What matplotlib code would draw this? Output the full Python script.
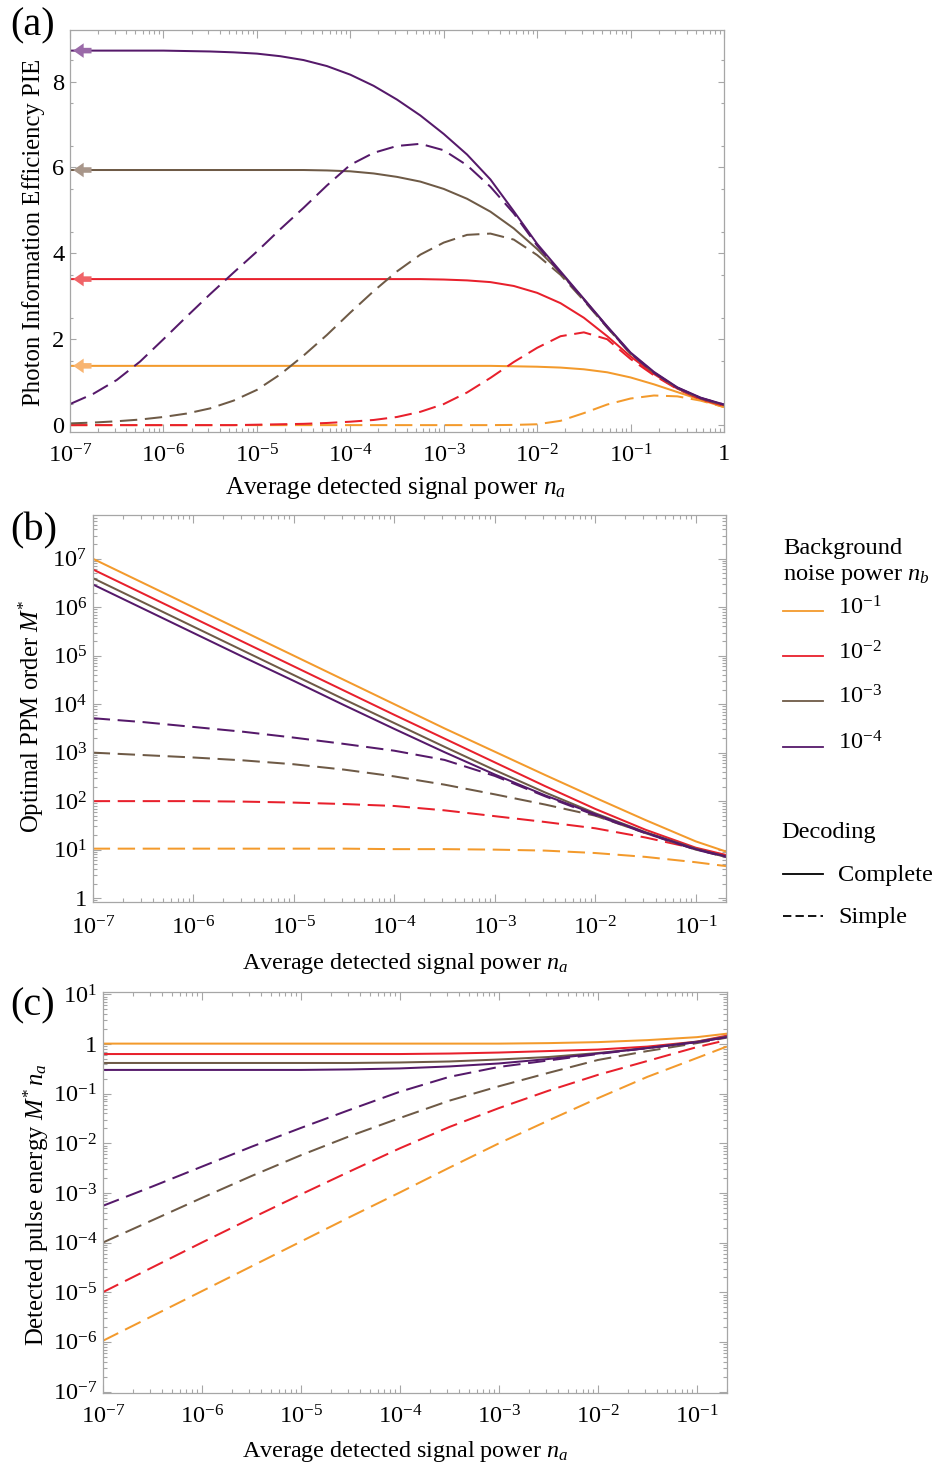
import numpy as np
import matplotlib
matplotlib.use('Agg')
import matplotlib.pyplot as plt
from matplotlib.lines import Line2D
from matplotlib.patches import FancyArrowPatch
from matplotlib.ticker import FixedLocator, FixedFormatter, NullFormatter

plt.rcParams['font.family'] = ['Liberation Serif', 'DejaVu Serif']
plt.rcParams['mathtext.fontset'] = 'custom'
plt.rcParams['mathtext.rm'] = 'Liberation Serif'
plt.rcParams['mathtext.it'] = 'Liberation Serif:italic'
plt.rcParams['mathtext.bf'] = 'Liberation Serif:bold'
plt.rcParams['lines.scale_dashes'] = False

# ---------------- DATA ----------------
noise_labels = [r'$10^{-1}$', r'$10^{-2}$', r'$10^{-3}$', r'$10^{-4}$']
colors = ['#f39a2c', '#e8202c', '#6e5a46', '#55196a']
arrow_colors = ['#f8b470', '#f06468', '#a8968a', '#9a6aa8']

# panel (a): log10(n_a) grid and PIE values
loga_x = [-7, -6.75, -6.5, -6.25, -6, -5.75, -5.5, -5.25, -5, -4.75, -4.5, -4.25, -4, -3.75,
          -3.5, -3.25, -3, -2.75, -2.5, -2.25, -2, -1.75, -1.5, -1.25, -1, -0.75, -0.5, -0.25, 0]
pie_complete = [
    # nb = 1e-1
    [1.38, 1.38, 1.38, 1.38, 1.38, 1.38, 1.38, 1.38, 1.38, 1.38, 1.38, 1.38, 1.38, 1.38,
     1.38, 1.38, 1.38, 1.38, 1.38, 1.37, 1.36, 1.34, 1.30, 1.23, 1.11, 0.95, 0.77, 0.59, 0.42],
    # nb = 1e-2
    [3.40, 3.40, 3.40, 3.40, 3.40, 3.40, 3.40, 3.40, 3.40, 3.40, 3.40, 3.40, 3.40, 3.40,
     3.40, 3.40, 3.39, 3.37, 3.33, 3.24, 3.08, 2.84, 2.50, 2.07, 1.60, 1.19, 0.85, 0.61, 0.46],
    # nb = 1e-3
    [5.94, 5.94, 5.94, 5.94, 5.94, 5.94, 5.94, 5.94, 5.94, 5.94, 5.94, 5.93, 5.91, 5.86,
     5.78, 5.67, 5.50, 5.27, 4.97, 4.58, 4.10, 3.55, 2.93, 2.29, 1.67, 1.22, 0.87, 0.63, 0.47],
    # nb = 1e-4
    [8.72, 8.72, 8.72, 8.72, 8.72, 8.71, 8.70, 8.68, 8.65, 8.59, 8.50, 8.36, 8.16, 7.90,
     7.58, 7.21, 6.78, 6.30, 5.72, 4.98, 4.22, 3.58, 2.94, 2.30, 1.69, 1.24, 0.88, 0.64, 0.48],
]
pie_simple = [
    [0.00, 0.00, 0.00, 0.00, 0.00, 0.00, 0.00, 0.00, 0.00, 0.00, 0.00, 0.00, 0.00, 0.00,
     0.00, 0.00, 0.00, 0.00, 0.00, 0.005, 0.02, 0.10, 0.28, 0.48, 0.62, 0.69, 0.67, 0.57, 0.42],
    [0.00, 0.00, 0.00, 0.00, 0.00, 0.00, 0.00, 0.00, 0.01, 0.02, 0.03, 0.05, 0.08, 0.12,
     0.19, 0.31, 0.49, 0.76, 1.10, 1.47, 1.80, 2.07, 2.16, 2.00, 1.54, 1.16, 0.84, 0.60, 0.45],
    [0.04, 0.06, 0.09, 0.13, 0.19, 0.27, 0.39, 0.57, 0.82, 1.18, 1.62, 2.10, 2.62, 3.12,
     3.58, 3.97, 4.25, 4.43, 4.46, 4.32, 3.96, 3.50, 2.90, 2.27, 1.66, 1.22, 0.86, 0.62, 0.47],
    [0.49, 0.73, 1.05, 1.48, 2.00, 2.53, 3.05, 3.55, 4.04, 4.56, 5.06, 5.58, 6.06, 6.34,
     6.50, 6.55, 6.40, 6.05, 5.55, 4.93, 4.18, 3.55, 2.92, 2.28, 1.67, 1.22, 0.87, 0.63, 0.48],
]
pie_limits = [1.38, 3.40, 5.94, 8.72]

# panel (b): log10(n_a) grid and log10(M*)
logb_x = [-7, -6.5, -6, -5.5, -5, -4.5, -4, -3.5, -3, -2.5, -2, -1.5, -1, -0.699]
logM_complete = [
    [7.00, 6.50, 6.00, 5.50, 5.00, 4.50, 4.00, 3.50, 3.02, 2.54, 2.07, 1.61, 1.17, 0.96],
    [6.78, 6.28, 5.78, 5.28, 4.78, 4.28, 3.78, 3.29, 2.80, 2.31, 1.84, 1.41, 1.04, 0.89],
    [6.60, 6.10, 5.60, 5.10, 4.60, 4.10, 3.61, 3.12, 2.64, 2.18, 1.75, 1.36, 1.02, 0.86],
    [6.47, 5.97, 5.47, 4.97, 4.48, 3.98, 3.49, 3.01, 2.55, 2.12, 1.73, 1.35, 1.01, 0.86],
]
logM_simple = [
    [1.02, 1.02, 1.02, 1.02, 1.02, 1.02, 1.01, 1.01, 1.00, 0.98, 0.93, 0.85, 0.74, 0.66],
    [2.00, 2.00, 2.00, 1.99, 1.97, 1.94, 1.90, 1.81, 1.69, 1.57, 1.44, 1.25, 1.02, 0.86],
    [3.00, 2.95, 2.90, 2.84, 2.76, 2.65, 2.51, 2.34, 2.14, 1.93, 1.70, 1.34, 1.00, 0.85],
    [3.71, 3.63, 3.53, 3.43, 3.31, 3.18, 3.04, 2.85, 2.52, 2.10, 1.71, 1.34, 1.00, 0.85],
]

# panel (c): log10(n_a) grid and log10(M* n_a)
logc_x = [-7, -6.5, -6, -5.5, -5, -4.5, -4, -3.5, -3, -2.5, -2, -1.5, -1, -0.699]
logE_complete = [
    [0.01, 0.01, 0.01, 0.01, 0.01, 0.01, 0.01, 0.01, 0.01, 0.02, 0.04, 0.08, 0.14, 0.21],
    [-0.20, -0.20, -0.20, -0.20, -0.20, -0.20, -0.20, -0.19, -0.17, -0.14, -0.11, -0.05, 0.05, 0.17],
    [-0.38, -0.38, -0.38, -0.38, -0.38, -0.38, -0.37, -0.35, -0.31, -0.26, -0.18, -0.08, 0.05, 0.15],
    [-0.52, -0.52, -0.52, -0.52, -0.52, -0.51, -0.49, -0.45, -0.39, -0.30, -0.19, -0.08, 0.04, 0.14],
]
logE_simple = [
    [-5.98, -5.48, -4.98, -4.48, -3.98, -3.48, -2.99, -2.49, -2.00, -1.54, -1.09, -0.66, -0.28, -0.05],
    [-5.00, -4.50, -4.00, -3.51, -3.03, -2.56, -2.10, -1.67, -1.29, -0.94, -0.62, -0.34, -0.06, 0.08],
    [-4.00, -3.55, -3.10, -2.66, -2.24, -1.85, -1.49, -1.14, -0.85, -0.58, -0.32, -0.14, 0.02, 0.13],
    [-3.26, -2.87, -2.47, -2.07, -1.69, -1.32, -0.96, -0.66, -0.46, -0.33, -0.20, -0.08, 0.04, 0.14],
]

xticks_a = [-7, -6, -5, -4, -3, -2, -1, 0]
xticklabels_a = [r'$10^{-7}$', r'$10^{-6}$', r'$10^{-5}$', r'$10^{-4}$', r'$10^{-3}$', r'$10^{-2}$', r'$10^{-1}$', '1']
xticks_bc = [-7, -6, -5, -4, -3, -2, -1]
xticklabels_bc = xticklabels_a[:-1]
yticks_a = [0, 2, 4, 6, 8]
yticks_b = [0, 1, 2, 3, 4, 5, 6, 7]
yticklabels_b = ['1', r'$10^{1}$', r'$10^{2}$', r'$10^{3}$', r'$10^{4}$', r'$10^{5}$', r'$10^{6}$', r'$10^{7}$']
yticks_c = [-7, -6, -5, -4, -3, -2, -1, 0, 1]
yticklabels_c = [r'$10^{-7}$', r'$10^{-6}$', r'$10^{-5}$', r'$10^{-4}$', r'$10^{-3}$', r'$10^{-2}$', r'$10^{-1}$', '1', r'$10^{1}$']

# ---------------- FIGURE ----------------
W, H = 943, 1465
fig = plt.figure(figsize=(W / 100, H / 100), dpi=100)

def ax_rect(l, r, t, b):
    return [l / W, 1 - b / H, (r - l) / W, (b - t) / H]

FRAME = '#a6a6a6'
FS = 17.6
LW = 1.45
DASH = (12.5, 5.5)

def style_axes(ax, xpad):
    for s in ax.spines.values():
        s.set_color(FRAME)
        s.set_linewidth(0.9)
    ax.tick_params(which='both', direction='in', top=True, right=True,
                   colors=FRAME, labelcolor='black', labelsize=FS, width=0.8)
    ax.tick_params(which='major', length=6, pad=4)
    ax.tick_params(which='minor', length=3)
    ax.tick_params(axis='x', which='major', pad=xpad)

def minor_log(lo, hi):
    out = []
    for d in range(int(np.floor(lo)) - 1, int(np.ceil(hi)) + 1):
        for k in range(2, 10):
            out.append(k * 10.0 ** d)
    return out

def set_log_xticks(ax, ticks, labels, lo, hi):
    ax.xaxis.set_major_locator(FixedLocator([10.0 ** t for t in ticks]))
    ax.xaxis.set_major_formatter(FixedFormatter(labels))
    ax.xaxis.set_minor_locator(FixedLocator(minor_log(lo, hi)))
    ax.xaxis.set_minor_formatter(NullFormatter())

def set_log_yticks(ax, ticks, labels, lo, hi):
    ax.yaxis.set_major_locator(FixedLocator([10.0 ** t for t in ticks]))
    ax.yaxis.set_major_formatter(FixedFormatter(labels))
    ax.yaxis.set_minor_locator(FixedLocator(minor_log(lo, hi)))
    ax.yaxis.set_minor_formatter(NullFormatter())

# ---- panel (a)
axa = fig.add_axes(ax_rect(70, 724, 30, 432))
xa = np.power(10.0, loga_x)
for i in range(4):
    axa.plot(xa, pie_complete[i], color=colors[i], lw=LW, solid_capstyle='butt')
    axa.plot(xa, pie_simple[i], color=colors[i], lw=LW, dashes=DASH)
axa.set_xscale('log')
axa.set_xlim(1e-7, 1)
axa.set_ylim(-0.16, 9.2)
style_axes(axa, 8.5)
set_log_xticks(axa, xticks_a, xticklabels_a, -7, 0)
axa.yaxis.set_major_locator(FixedLocator(yticks_a))
axa.yaxis.set_minor_locator(FixedLocator(np.arange(0.5, 9.1, 1.0)))
axa.tick_params(axis='y', which='major', length=4)
axa.tick_params(axis='y', which='minor', length=2.5)
for i, lev in enumerate(pie_limits):
    arr = FancyArrowPatch(posA=(10 ** -6.74, lev), posB=(10 ** -6.995, lev),
                          arrowstyle='simple,head_length=0.75,head_width=1.05,tail_width=0.4',
                          mutation_scale=10, color=arrow_colors[i], lw=0, zorder=4)
    axa.add_patch(arr)

# ---- panel (b)
axb = fig.add_axes(ax_rect(92.7, 726, 515, 902))
xb = np.power(10.0, logb_x)
for i in range(4):
    axb.plot(xb, np.power(10.0, logM_complete[i]), color=colors[i], lw=LW)
    axb.plot(xb, np.power(10.0, logM_simple[i]), color=colors[i], lw=LW, dashes=DASH)
axb.set_xscale('log')
axb.set_yscale('log')
axb.set_xlim(1e-7, 0.2)
axb.set_ylim(10 ** -0.08, 10 ** 7.9)
style_axes(axb, 10.5)
set_log_xticks(axb, xticks_bc, xticklabels_bc, -7, 0)
set_log_yticks(axb, yticks_b, yticklabels_b, -1, 8)

# ---- panel (c)
axc = fig.add_axes(ax_rect(102.7, 726.7, 992, 1393))
xc = np.power(10.0, logc_x)
for i in range(4):
    axc.plot(xc, np.power(10.0, logE_complete[i]), color=colors[i], lw=LW)
    axc.plot(xc, np.power(10.0, logE_simple[i]), color=colors[i], lw=LW, dashes=DASH)
axc.set_xscale('log')
axc.set_yscale('log')
axc.set_xlim(1e-7, 0.2)
axc.set_ylim(10 ** -7.03, 10 ** 1.05)
style_axes(axc, 8.5)
set_log_xticks(axc, xticks_bc, xticklabels_bc, -7, 0)
set_log_yticks(axc, yticks_c, yticklabels_c, -8, 1)

# ---- texts
def ftext(x, y, s, **kw):
    fig.text(x / W, 1 - y / H, s, **kw)

ftext(10, 35, '(a)', fontsize=29, ha='left', va='baseline')
ftext(10, 540, '(b)', fontsize=29, ha='left', va='baseline')
ftext(10, 1015, '(c)', fontsize=29, ha='left', va='baseline')

xlab = r'Average detected signal power $n_a$'
ftext(396, 494, xlab, fontsize=18.2, ha='center', va='baseline')
ftext(405, 969, xlab, fontsize=17.4, ha='center', va='baseline')
ftext(405, 1457, xlab, fontsize=17.4, ha='center', va='baseline')

ftext(34, 232, 'Photon Information Efficiency PIE', fontsize=17.8, rotation=90, ha='center', va='center')
ftext(31, 716, r'Optimal PPM order $M^{*}$', fontsize=17.8, rotation=90, ha='center', va='center')
ftext(36, 1205, r'Detected pulse energy $M^{*}\,n_a$', fontsize=17.8, rotation=90, ha='center', va='center')

# ---- legend (figure-level)
def fline(x0, x1, y, **kw):
    fig.add_artist(Line2D([x0 / W, x1 / W], [1 - y / H, 1 - y / H], transform=fig.transFigure, **kw))

ftext(783, 554, 'Background', fontsize=FS, ha='left', va='baseline')
ftext(783, 580, r'noise power $n_b$', fontsize=FS, ha='left', va='baseline')
leg_y = [611, 656, 701, 747]
for i in range(4):
    fline(783, 823, leg_y[i], color=colors[i], lw=1.3)
    ftext(838, leg_y[i] + 3, noise_labels[i], fontsize=FS, ha='left', va='baseline')
ftext(781, 838, 'Decoding', fontsize=FS, ha='left', va='baseline')
fline(783, 823, 874, color='black', lw=1.3)
ftext(838, 881, 'Complete', fontsize=FS, ha='left', va='baseline')
fline(783, 823, 916, color='black', lw=1.3, dashes=(6.0, 3.0))
ftext(838, 923, 'Simple', fontsize=FS, ha='left', va='baseline')

fig.savefig('out.png', dpi=100)
